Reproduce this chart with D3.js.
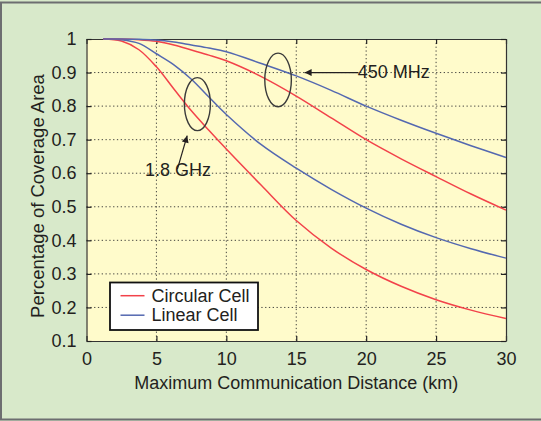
<!DOCTYPE html>
<html>
<head>
<meta charset="utf-8">
<script src="https://cdn.jsdelivr.net/npm/d3@7/dist/d3.min.js"></script>
<style>
  html, body { margin: 0; padding: 0; background: #d8e9ca; }
  svg { display: block; }
  text { font-family: "Liberation Sans", Arial, Helvetica, sans-serif; fill: #231f20; }
</style>
</head>
<body>
<svg id="chart" width="541" height="421"></svg>
<script>
// ---- data ----
const distance    = [1.2, 2.5, 3.75, 5, 6.25, 7.5, 8.75, 10, 12.5, 15, 17.5, 20, 22.5, 25, 27.5, 30];
const circular450 = [1, 1.0, 0.998, 0.993, 0.982, 0.967, 0.952, 0.935, 0.888, 0.83, 0.765, 0.70, 0.643, 0.59, 0.538, 0.49];
const linear450   = [1, 1.0, 0.999, 0.997, 0.991, 0.982, 0.973, 0.962, 0.927, 0.89, 0.847, 0.80, 0.758, 0.719, 0.682, 0.647];
const circular18  = [1, 0.994, 0.968, 0.917, 0.851, 0.786, 0.728, 0.672, 0.564, 0.459, 0.377, 0.313, 0.263, 0.223, 0.192, 0.167];
const linear18    = [1, 0.998, 0.987, 0.956, 0.923, 0.88, 0.827, 0.775, 0.685, 0.615, 0.552, 0.496, 0.448, 0.408, 0.375, 0.347];
const xTicks = [0, 5, 10, 15, 20, 25, 30];
const yTicks = [0.1, 0.2, 0.3, 0.4, 0.5, 0.6, 0.7, 0.8, 0.9, 1];
const legendLabels = ["Circular Cell", "Linear Cell"];
const seriesColors = {circular: "#f2424a", linear: "#5468b0"};

const svg = d3.select("#chart");
const W = 541, H = 421;
const plot = {left: 86.5, right: 506, top: 39, bottom: 341};

// background frame
svg.append("rect").attr("x", 0).attr("y", 0).attr("width", W).attr("height", H).attr("fill", "#d8e9ca");
svg.append("path")
  .attr("d", `M${W},2.5 H1 V419.5 H${W}`)
  .attr("fill", "none").attr("stroke", "#6d6e70").attr("stroke-width", 2);

const x = d3.scaleLinear().domain([0, 30]).range([plot.left, plot.right]);
const y = d3.scaleLinear().domain([0.1, 1]).range([plot.bottom, plot.top]);

// plot background
svg.append("rect")
  .attr("x", plot.left).attr("y", plot.top)
  .attr("width", plot.right - plot.left).attr("height", plot.bottom - plot.top)
  .attr("fill", "#fffbcb");

// grid
const grid = svg.append("g").attr("stroke", "#333").attr("stroke-width", 1)
  .attr("stroke-dasharray", "1.3,2.5").attr("opacity", 0.9);
xTicks.slice(1, -1).forEach(t => grid.append("line")
  .attr("x1", x(t)).attr("x2", x(t)).attr("y1", plot.top).attr("y2", plot.bottom));
yTicks.slice(1, -1).forEach(t => grid.append("line")
  .attr("x1", plot.left).attr("x2", plot.right).attr("y1", y(t)).attr("y2", y(t)));

// axes (box with inward ticks)
const fmtY = d => d === 1 ? "1" : d3.format(".1f")(d);
const axB = d3.axisBottom(x).tickValues(xTicks).tickSizeInner(-5).tickSizeOuter(0).tickPadding(11);
const axT = d3.axisTop(x).tickValues(xTicks).tickSizeInner(-5).tickSizeOuter(0).tickFormat("");
const axL = d3.axisLeft(y).tickValues(yTicks).tickSizeInner(-5).tickSizeOuter(0).tickPadding(10).tickFormat(fmtY);
const axR = d3.axisRight(y).tickValues(yTicks).tickSizeInner(-5).tickSizeOuter(0).tickFormat("");

function styleAxis(g) {
  g.select(".domain").attr("stroke", "#333").attr("stroke-width", 1.2);
  g.selectAll(".tick line").attr("stroke", "#222").attr("stroke-width", 1.2);
  g.selectAll(".tick text").attr("font-size", 18).attr("fill", "#231f20")
    .attr("font-family", '"Liberation Sans", Arial, sans-serif');
}
svg.append("g").attr("transform", `translate(0,${plot.bottom})`).call(axB).call(styleAxis);
svg.append("g").attr("transform", `translate(0,${plot.top})`).call(axT).call(styleAxis);
svg.append("g").attr("transform", `translate(${plot.left},0)`).call(axL).call(styleAxis);
svg.append("g").attr("transform", `translate(${plot.right},0)`).call(axR).call(styleAxis);

// lines
const line = d3.line().x(d => x(d[0])).y(d => y(d[1])).curve(d3.curveCatmullRom.alpha(0.5));
const series = [
  {vals: circular18, color: seriesColors.circular},
  {vals: linear18, color: seriesColors.linear},
  {vals: circular450, color: seriesColors.circular},
  {vals: linear450, color: seriesColors.linear}
];
series.forEach(s => {
  svg.append("path")
    .datum(distance.map((d, i) => [d, s.vals[i]]))
    .attr("d", line)
    .attr("fill", "none").attr("stroke", s.color).attr("stroke-width", 1.5);
});

// annotations: ellipses
const ann = svg.append("g").attr("fill", "none").attr("stroke", "#3b3b3b").attr("stroke-width", 1.4);
ann.append("ellipse").attr("cx", x(7.93)).attr("cy", y(0.806))
  .attr("rx", x(0.93) - x(0)).attr("ry", y(0.1) - y(0.179));
ann.append("ellipse").attr("cx", x(13.7)).attr("cy", y(0.878))
  .attr("rx", x(0.95) - x(0)).attr("ry", y(0.1) - y(0.18));

// arrows
svg.append("defs").append("marker")
  .attr("id", "arr").attr("viewBox", "0 0 10 10").attr("refX", 10).attr("refY", 5)
  .attr("markerWidth", 9).attr("markerHeight", 7).attr("markerUnits", "userSpaceOnUse")
  .attr("orient", "auto")
  .append("path").attr("d", "M0,0 L10,5 L0,10 z").attr("fill", "#231f20");

svg.append("line")
  .attr("x1", x(19.45)).attr("y1", y(0.9)).attr("x2", x(15.6)).attr("y2", y(0.9))
  .attr("stroke", "#231f20").attr("stroke-width", 1.2).attr("marker-end", "url(#arr)");
svg.append("line")
  .attr("x1", x(6.5)).attr("y1", y(0.612)).attr("x2", x(7.2)).attr("y2", y(0.712))
  .attr("stroke", "#231f20").attr("stroke-width", 1.2).attr("marker-end", "url(#arr)");

svg.append("text").attr("x", x(19.4)).attr("y", y(0.883)).attr("font-size", 18).text("450 MHz");
svg.append("text").attr("x", x(4.18)).attr("y", y(0.593)).attr("font-size", 18).text("1.8 GHz");

// legend
const lg = svg.append("g");
lg.append("rect").attr("x", 110).attr("y", 282.5).attr("width", 148).attr("height", 47.5)
  .attr("fill", "#fff").attr("stroke", "#111").attr("stroke-width", 1.8);
[seriesColors.circular, seriesColors.linear].forEach((c, i) => {
  const yy = 295.7 + i * 19.5;
  lg.append("line").attr("x1", 120.5).attr("x2", 144.5).attr("y1", yy).attr("y2", yy)
    .attr("stroke", c).attr("stroke-width", 1.5);
  lg.append("text").attr("x", 151.5).attr("y", yy + 6.2).attr("font-size", 18).text(legendLabels[i]);
});

// axis titles
svg.append("text").attr("x", (plot.left + plot.right) / 2).attr("y", 388.5)
  .attr("text-anchor", "middle").attr("font-size", 18)
  .text("Maximum Communication Distance (km)");
svg.append("text").attr("transform", `translate(44,${(plot.top + plot.bottom) / 2 + 6}) rotate(-90)`)
  .attr("text-anchor", "middle").attr("font-size", 18.5)
  .text("Percentage of Coverage Area");
</script>
</body>
</html>
